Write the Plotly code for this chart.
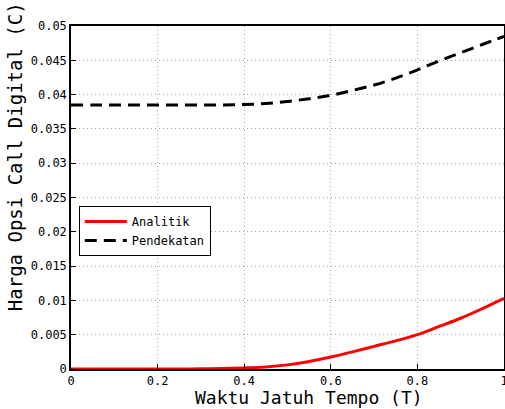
import plotly.graph_objects as go

t = [0, 0.05, 0.1, 0.15, 0.2, 0.25, 0.3, 0.35, 0.4, 0.45, 0.5,
     0.55, 0.6, 0.65, 0.7, 0.75, 0.8, 0.85, 0.9, 0.95, 1.0]
analitik = [0, 0, 0, 0, 0, 0, 0.00002, 0.00006, 0.00015, 0.0003, 0.0006,
            0.0011, 0.00175, 0.0025, 0.0033, 0.0041, 0.005, 0.0062, 0.0074, 0.0088, 0.0103]
pendekatan = [0.0385, 0.0385, 0.0385, 0.0385, 0.0385, 0.0385, 0.0385, 0.0385, 0.03855, 0.0387, 0.0390,
              0.0394, 0.0399, 0.0406, 0.0414, 0.0424, 0.0436, 0.0449, 0.0461, 0.0473, 0.0485]

xticks = [0, 0.2, 0.4, 0.6, 0.8, 1.0]
xticklabels = ["0", "0.2", "0.4", "0.6", "0.8", "1"]
yticks = [0, 0.005, 0.01, 0.015, 0.02, 0.025, 0.03, 0.035, 0.04, 0.045, 0.05]
yticklabels = ["0", "0.005", "0.01", "0.015", "0.02", "0.025", "0.03", "0.035", "0.04", "0.045", "0.05"]

FONT = "DejaVu Sans Mono"

fig = go.Figure()
fig.add_trace(go.Scatter(x=t, y=analitik, mode="lines", name="Analitik",
                         line=dict(color="#ff0000", width=3, shape="spline")))
fig.add_trace(go.Scatter(x=t, y=pendekatan, mode="lines", name="Pendekatan",
                         line=dict(color="#000000", width=3, dash="12px,7px", shape="spline")))

axis_common = dict(
    showline=True, linecolor="black", linewidth=1.5, mirror=True,
    ticks="inside", ticklen=5, tickcolor="black",
    showgrid=True, gridcolor="#a8a8a8", griddash="1px,3px", gridwidth=1,
    zeroline=False, tickfont=dict(family=FONT, size=12, color="black"),
    automargin=False, ticklabeloverflow="allow",
)

fig.update_layout(
    width=505, height=409,
    margin=dict(l=71, r=1, t=26, b=40),
    paper_bgcolor="white", plot_bgcolor="white",
    font=dict(family=FONT, color="black"),
    xaxis=dict(range=[0, 1], tickvals=xticks, ticktext=xticklabels, **axis_common),
    yaxis=dict(range=[0, 0.05], tickvals=yticks, ticktext=yticklabels, **axis_common),
    legend=dict(x=0.018, y=0.475, xanchor="left", yanchor="top",
                bgcolor="white", bordercolor="black", borderwidth=1,
                font=dict(family=FONT, size=12, color="black"),
                tracegroupgap=0, itemwidth=42),
    showlegend=True,
    annotations=[
        dict(text="Waktu Jatuh Tempo (T)", xref="paper", yref="paper",
             x=0.55, y=-0.0845, xanchor="center", yanchor="middle",
             showarrow=False, font=dict(family=FONT, size=18, color="black")),
        dict(text="Harga Opsi Call Digital (C)", xref="paper", yref="paper",
             x=-0.129, y=0.618, xanchor="center", yanchor="middle", textangle=-90,
             showarrow=False, font=dict(family=FONT, size=19, color="black")),
    ],
)

post = ("var gd=document.getElementById('{plot_id}');"
        "document.body.style.margin='0';document.body.style.overflow='hidden';"
        "Plotly.relayout(gd,{width:505,height:409});")

fig.write_html("out.html", post_script=post, config={"displayModeBar": False})
